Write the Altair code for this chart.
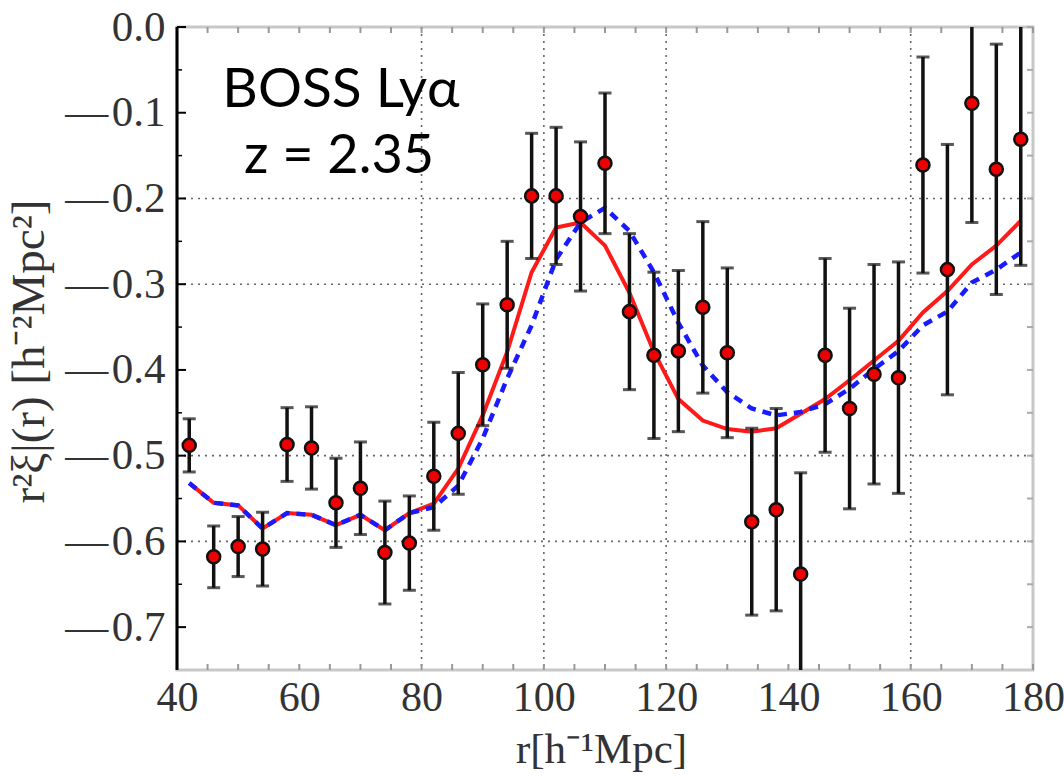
import altair as alt
import pandas as pd

# ---- data ----
r_vals = [42, 46, 50, 54, 58, 62, 66, 70, 74, 78, 82, 86, 90, 94, 98, 102, 106, 110,
          114, 118, 122, 126, 130, 134, 138, 142, 146, 150, 154, 158, 162, 166, 170, 174, 178]
xi_vals = [-0.488, -0.618, -0.606, -0.609, -0.487, -0.491, -0.555, -0.538, -0.613, -0.602,
           -0.524, -0.474, -0.394, -0.324, -0.197, -0.197, -0.221, -0.159, -0.332, -0.383,
           -0.378, -0.327, -0.380, -0.577, -0.563, -0.638, -0.383, -0.445, -0.405, -0.409,
           -0.161, -0.283, -0.089, -0.166, -0.131]
err_vals = [0.031, 0.036, 0.035, 0.043, 0.043, 0.048, 0.052, 0.054, 0.060, 0.055,
            0.063, 0.071, 0.071, 0.074, 0.073, 0.080, 0.087, 0.082, 0.091, 0.097,
            0.094, 0.100, 0.099, 0.109, 0.118, 0.118, 0.113, 0.117, 0.128, 0.135,
            0.126, 0.146, 0.139, 0.146, 0.147]
model_red = [-0.532, -0.555, -0.558, -0.585, -0.567, -0.569, -0.581, -0.569, -0.587, -0.567,
             -0.556, -0.515, -0.453, -0.379, -0.286, -0.234, -0.228, -0.255, -0.310, -0.379,
             -0.434, -0.459, -0.469, -0.472, -0.468, -0.451, -0.434, -0.412, -0.389, -0.366,
             -0.333, -0.308, -0.277, -0.255, -0.226]
model_blue = [-0.532, -0.555, -0.558, -0.585, -0.567, -0.569, -0.581, -0.569, -0.587, -0.567,
              -0.560, -0.535, -0.480, -0.410, -0.348, -0.271, -0.228, -0.211, -0.238, -0.286,
              -0.345, -0.395, -0.426, -0.445, -0.453, -0.449, -0.440, -0.422, -0.399, -0.378,
              -0.348, -0.332, -0.298, -0.283, -0.263]

x_ticks = [40, 60, 80, 100, 120, 140, 160, 180]
y_ticks = [0.0, -0.1, -0.2, -0.3, -0.4, -0.5, -0.6, -0.7]
x_grid = [80, 100, 120, 160]
y_grid = [-0.2, -0.3, -0.5, -0.6]
x_minor = [45, 50, 55, 65, 70, 75, 85, 90, 95, 105, 110, 115, 125, 130, 135, 145, 150, 155, 165, 170, 175]
y_minor = [-0.05, -0.15, -0.25, -0.35, -0.45, -0.55, -0.65]

W, H = 856, 643
SERIF = "Liberation Serif"

pts = pd.DataFrame({
    "r": r_vals,
    "xi": xi_vals,
    "lo": [v - e for v, e in zip(xi_vals, err_vals)],
    "hi": [v + e for v, e in zip(xi_vals, err_vals)],
})
models = pd.DataFrame({"r": r_vals, "red": model_red, "blue": model_blue})

xs = alt.Scale(domain=[40, 180], nice=False, zero=False)
ys = alt.Scale(domain=[-0.75, 0.0], nice=False, zero=False)

x_axis = alt.Axis(values=x_ticks, format="d", grid=False, ticks=False, domain=False,
                  labelFont=SERIF, labelFontSize=42, labelColor="#333", labelPadding=7,
                  labelFlush=False,
                  title="r[h⁻¹Mpc]", titleFont=SERIF, titleFontSize=43, titleFontWeight="normal",
                  titleColor="#333", titleBaseline="alphabetic", titleY=92, titleX=424)
y_axis = alt.Axis(values=y_ticks, grid=False, ticks=False, domain=False,
                  labelExpr="datum.value < -0.001 ? '\u2014\u200a' + format(-datum.value, '.1f') : format(datum.value, '.1f')",
                  labelFont=SERIF, labelFontSize=43, labelColor="#333", labelPadding=12,
                  title="r²ξ|(r) [h⁻²Mpc²]", titleFont=SERIF, titleFontSize=47,
                  titleFontWeight="normal", titleColor="#333", titleX=-124, titleY=324)

base = alt.Chart(pts)

axes = base.mark_point(opacity=0).encode(
    x=alt.X("r:Q", scale=xs, axis=x_axis),
    y=alt.Y("xi:Q", scale=ys, axis=y_axis),
)

grid_x = alt.Chart(pd.DataFrame({"g": x_grid})).mark_rule(
    color="#666", strokeWidth=1.6, strokeDash=[2, 5]
).encode(x=alt.X("g:Q", scale=xs), y=alt.value(0), y2=alt.value(H))

grid_y = alt.Chart(pd.DataFrame({"g": y_grid})).mark_rule(
    color="#666", strokeWidth=1.6, strokeDash=[2, 5]
).encode(y=alt.Y("g:Q", scale=ys), x=alt.value(0), x2=alt.value(W))

tick_left = alt.Chart(pd.DataFrame({"t": y_ticks})).mark_rule(color="black", strokeWidth=2).encode(
    y=alt.Y("t:Q", scale=ys), x=alt.value(0), x2=alt.value(9))
tick_left_m = alt.Chart(pd.DataFrame({"t": y_minor})).mark_rule(color="black", strokeWidth=1.5).encode(
    y=alt.Y("t:Q", scale=ys), x=alt.value(0), x2=alt.value(5))
tick_right = alt.Chart(pd.DataFrame({"t": y_ticks + y_minor})).mark_rule(color="#aaa", strokeWidth=2).encode(
    y=alt.Y("t:Q", scale=ys), x=alt.value(W - 6), x2=alt.value(W))
tick_bot = alt.Chart(pd.DataFrame({"t": x_ticks + x_minor})).mark_rule(color="#999", strokeWidth=2).encode(
    x=alt.X("t:Q", scale=xs), y=alt.value(H - 6), y2=alt.value(H))
tick_top = alt.Chart(pd.DataFrame({"t": x_ticks + x_minor})).mark_rule(color="#999", strokeWidth=2).encode(
    x=alt.X("t:Q", scale=xs), y=alt.value(0), y2=alt.value(6))

left_frame = alt.Chart(pd.DataFrame({"a": [0]})).mark_rule(color="black", strokeWidth=3).encode(
    x=alt.value(0), y=alt.value(0), y2=alt.value(H))

red_line = alt.Chart(models).mark_line(color="#ff1a1a", strokeWidth=4, clip=True).encode(
    x=alt.X("r:Q", scale=xs), y=alt.Y("red:Q", scale=ys))
blue_line = alt.Chart(models).mark_line(color="#1a1aff", strokeWidth=4.5, strokeDash=[9, 7], clip=True).encode(
    x=alt.X("r:Q", scale=xs), y=alt.Y("blue:Q", scale=ys))

bars = base.mark_rule(color="#111", strokeWidth=3.5, clip=True).encode(
    x=alt.X("r:Q", scale=xs), y=alt.Y("lo:Q", scale=ys), y2="hi:Q")
cap_lo = base.mark_tick(color="#111", orient="horizontal", size=13, thickness=3, clip=True).encode(
    x=alt.X("r:Q", scale=xs), y=alt.Y("lo:Q", scale=ys))
cap_hi = base.mark_tick(color="#111", orient="horizontal", size=13, thickness=3, clip=True).encode(
    x=alt.X("r:Q", scale=xs), y=alt.Y("hi:Q", scale=ys))
points = base.mark_point(shape="circle", filled=True, fill="#ee0000", stroke="#111",
                         strokeWidth=2.5, size=170, opacity=1).encode(
    x=alt.X("r:Q", scale=xs), y=alt.Y("xi:Q", scale=ys))

label1 = alt.Chart(pd.DataFrame({"t": ["BOSS Lyα"]})).mark_text(
    font="Lato", fontSize=55, color="black", align="center", baseline="alphabetic"
).encode(text="t:N", x=alt.value(164), y=alt.value(80))
label2 = alt.Chart(pd.DataFrame({"t": ["z = 2.35"]})).mark_text(
    font="Lato", fontSize=54, color="black", align="center", baseline="alphabetic"
).encode(text="t:N", x=alt.value(162), y=alt.value(146))

chart = alt.layer(
    axes, grid_x, grid_y, tick_left, tick_left_m, tick_right, tick_bot, tick_top,
    red_line, blue_line, bars, cap_lo, cap_hi, points, left_frame, label1, label2
).properties(
    width=W, height=H,
    padding={"left": 177, "top": 27, "right": 31, "bottom": 107},
    autosize=alt.AutoSizeParams(type="none"),
    background="white",
).configure_view(stroke="#c8c8c8", strokeWidth=3)

chart.save("out.html", embed_options={"renderer": "svg", "actions": False})
